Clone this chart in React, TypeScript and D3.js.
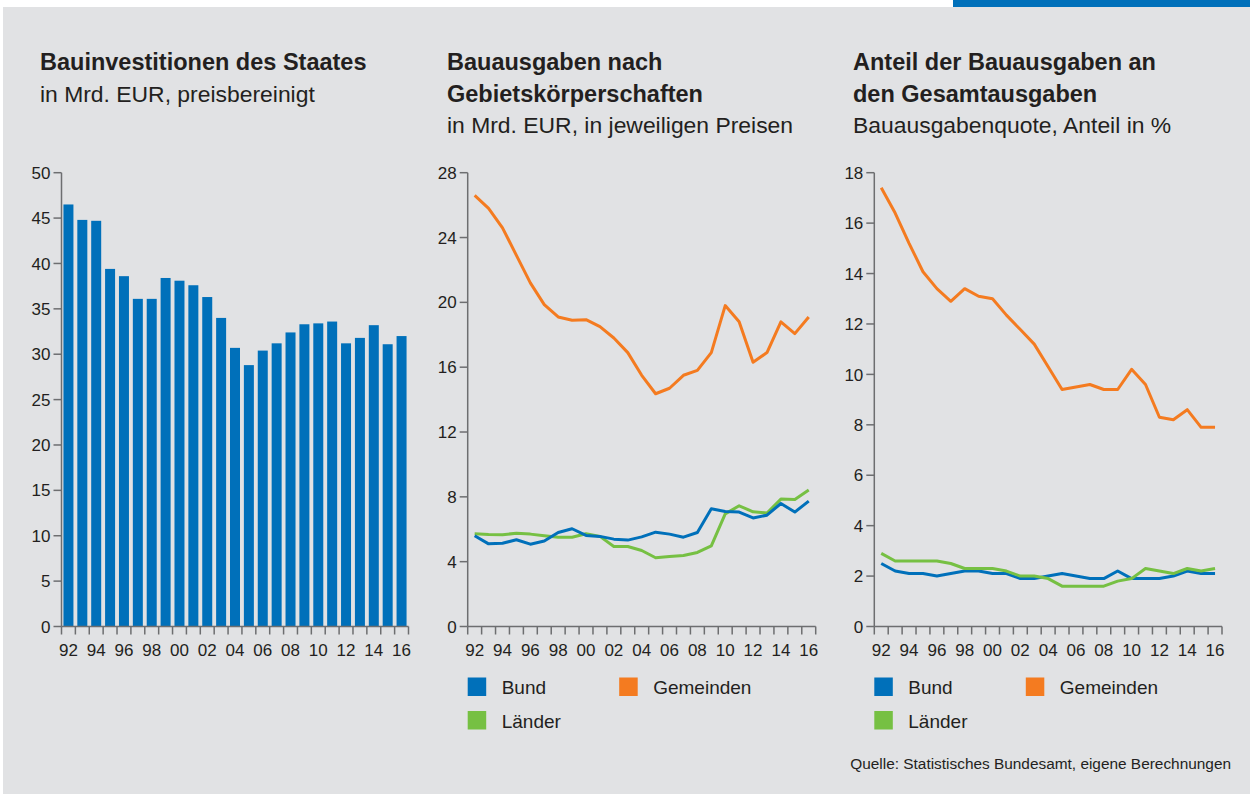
import React from "react";
import * as d3 from "d3";

const years = d3.range(1992, 2017);
const yearLabels = years.map((y) => String(y % 100).padStart(2, "0"));

// Chart 1: Bauinvestitionen des Staates (Mrd. EUR, preisbereinigt)
const bauinvestitionen = [46.5, 44.8, 44.7, 39.4, 38.6, 36.1, 36.1, 38.4, 38.1, 37.6, 36.3, 34.0, 30.7, 28.8, 30.4, 31.2, 32.4, 33.3, 33.4, 33.6, 31.2, 31.8, 33.2, 31.1, 32.0];

// Chart 2: Bauausgaben nach Gebietskörperschaften (Mrd. EUR)
const ausgabenBund = [5.6, 5.1, 5.14, 5.35, 5.08, 5.27, 5.8, 6.03, 5.62, 5.56, 5.39, 5.33, 5.53, 5.82, 5.7, 5.51, 5.8, 7.26, 7.1, 7.06, 6.7, 6.87, 7.59, 7.06, 7.74];
const ausgabenLaender = [5.72, 5.68, 5.66, 5.76, 5.7, 5.6, 5.51, 5.51, 5.72, 5.56, 4.94, 4.94, 4.69, 4.24, 4.32, 4.38, 4.57, 4.98, 6.95, 7.45, 7.08, 7.0, 7.86, 7.84, 8.42];
const ausgabenGemeinden = [26.6, 25.8, 24.6, 22.9, 21.2, 19.86, 19.1, 18.9, 18.93, 18.5, 17.8, 16.9, 15.5, 14.36, 14.7, 15.5, 15.8, 16.9, 19.8, 18.8, 16.3, 16.9, 18.8, 18.07, 19.1];

// Chart 3: Bauausgabenquote (Anteil in %)
const quoteBund = [2.5, 2.2, 2.1, 2.1, 2.0, 2.1, 2.2, 2.2, 2.1, 2.1, 1.9, 1.9, 2.0, 2.1, 2.0, 1.9, 1.9, 2.2, 1.9, 1.9, 1.9, 2.0, 2.2, 2.1, 2.1];
const quoteLaender = [2.9, 2.6, 2.6, 2.6, 2.6, 2.5, 2.3, 2.3, 2.3, 2.2, 2.0, 2.0, 1.9, 1.6, 1.6, 1.6, 1.6, 1.8, 1.9, 2.3, 2.2, 2.1, 2.3, 2.2, 2.3];
const quoteGemeinden = [17.4, 16.4, 15.2, 14.07, 13.4, 12.9, 13.4, 13.1, 13.0, 12.35, 11.78, 11.2, 10.3, 9.4, 9.5, 9.6, 9.4, 9.4, 10.2, 9.6, 8.3, 8.2, 8.6, 7.9, 7.9];

const ticks1 = [0, 5, 10, 15, 20, 25, 30, 35, 40, 45, 50];
const ticks2 = [0, 4, 8, 12, 16, 20, 24, 28];
const ticks3 = [0, 2, 4, 6, 8, 10, 12, 14, 16, 18];

const seriesNames = ["Bund", "Gemeinden", "Länder"];

const BG = "#e1e2e4";
const BLUE = "#0070ba";
const ORANGE = "#f47b20";
const GREEN = "#76c043";
const AXIS = "#6d6e70";
const TEXT = "#231f20";
const FONT = "'Liberation Sans', Arial, sans-serif";

const Y_TOP = 172.7;
const Y_BOTTOM = 626.5;

function YAxis({ x, scale, ticks }: any) {
  return (
    <g>
      <line x1={x} x2={x} y1={scale(ticks[ticks.length - 1])} y2={scale(0)} stroke={AXIS} strokeWidth={1.5} />
      {ticks.map((t: number) => (
        <g key={t}>
          <line x1={x - 8} x2={x} y1={scale(t)} y2={scale(t)} stroke={AXIS} strokeWidth={1.5} />
          <text x={x - 11} y={scale(t)} dy="0.36em" textAnchor="end" fontSize={17} fill={TEXT} fontFamily={FONT}>
            {t}
          </text>
        </g>
      ))}
    </g>
  );
}

function XAxis({ x0, x1, y }: any) {
  const band = d3.scaleBand<number>().domain(years).range([x0, x1]).padding(0);
  const bounds = [...years.map((yr) => band(yr) as number), x1];
  return (
    <g>
      <line x1={x0} x2={x1} y1={y} y2={y} stroke={AXIS} strokeWidth={1.5} />
      {bounds.map((bx, i) => (
        <line key={i} x1={bx} x2={bx} y1={y} y2={y + 8} stroke={AXIS} strokeWidth={1.5} />
      ))}
      {years.map((yr, i) =>
        i % 2 === 0 ? (
          <text key={yr} x={(band(yr) as number) + band.bandwidth() / 2} y={y + 29} textAnchor="middle" fontSize={17} fill={TEXT} fontFamily={FONT}>
            {yearLabels[i]}
          </text>
        ) : null
      )}
    </g>
  );
}

function Titles({ x, lines, sub }: any) {
  return (
    <g fontFamily={FONT} fill={TEXT}>
      {lines.map((l: string, i: number) => (
        <text key={i} x={x} y={70 + i * 31.5} fontSize={23.5} fontWeight="bold">
          {l}
        </text>
      ))}
      <text x={x} y={70 + lines.length * 31.5} fontSize={22.9}>
        {sub}
      </text>
    </g>
  );
}

function Legend({ x }: any) {
  const colors: any = { Bund: BLUE, Gemeinden: ORANGE, "Länder": GREEN };
  const pos: any = { Bund: [0, 0], Gemeinden: [151.5, 0], "Länder": [0, 33.5] };
  return (
    <g fontFamily={FONT} fill={TEXT}>
      {seriesNames.map((n) => (
        <g key={n} transform={`translate(${x + pos[n][0]},${677.5 + pos[n][1]})`}>
          <rect x={0} y={0} width={18.5} height={18.5} fill={colors[n]} />
          <text x={34} y={16.5} fontSize={19}>
            {n}
          </text>
        </g>
      ))}
    </g>
  );
}

function LineChart({ x0, x1, max, ticks, series }: any) {
  const y = d3.scaleLinear().domain([0, max]).range([Y_BOTTOM, Y_TOP]);
  const xp = d3.scalePoint<number>().domain(years).range([x0, x1]).padding(0.5);
  const line = d3
    .line<number>()
    .x((_, i) => xp(years[i]) as number)
    .y((d) => y(d));
  return (
    <g>
      {series.map((s: any) => (
        <path key={s.name} d={line(s.values) as string} fill="none" stroke={s.color} strokeWidth={3} strokeLinejoin="round" />
      ))}
      <YAxis x={x0} scale={y} ticks={ticks} />
      <XAxis x0={x0} x1={x1} y={Y_BOTTOM} />
      <Legend x={x0} />
    </g>
  );
}

function BarChart({ x0, x1 }: any) {
  const y = d3.scaleLinear().domain([0, 50]).range([Y_BOTTOM, Y_TOP]);
  const xb = d3.scaleBand<number>().domain(years).range([x0, x1]).paddingInner(0.28).paddingOuter(0.14);
  return (
    <g>
      {bauinvestitionen.map((v, i) => (
        <rect key={i} x={xb(years[i])} y={y(v)} width={xb.bandwidth()} height={y(0) - y(v)} fill={BLUE} />
      ))}
      <YAxis x={x0} scale={y} ticks={ticks1} />
      <XAxis x0={x0} x1={x1} y={Y_BOTTOM} />
    </g>
  );
}

export default function App() {
  return (
    <div>
      <style>{"body{margin:0}"}</style>
      <svg width={1250} height={794} style={{ display: "block" }}>
        <rect x={0} y={0} width={1250} height={794} fill="#ffffff" />
        <rect x={3} y={7} width={1247} height={787} fill={BG} />
        <rect x={953} y={0} width={297} height={7} fill={BLUE} />

        <Titles x={40} lines={["Bauinvestitionen des Staates"]} sub="in Mrd. EUR, preisbereinigt" />
        <Titles x={447} lines={["Bauausgaben nach", "Gebietskörperschaften"]} sub="in Mrd. EUR, in jeweiligen Preisen" />
        <Titles x={853} lines={["Anteil der Bauausgaben an", "den Gesamtausgaben"]} sub="Bauausgabenquote, Anteil in %" />

        <BarChart x0={61.5} x1={408.5} />
        <LineChart
          x0={467.7}
          x1={815.7}
          max={28}
          ticks={ticks2}
          series={[
            { name: "Länder", values: ausgabenLaender, color: GREEN },
            { name: "Bund", values: ausgabenBund, color: BLUE },
            { name: "Gemeinden", values: ausgabenGemeinden, color: ORANGE },
          ]}
        />
        <LineChart
          x0={874.3}
          x1={1222}
          max={18}
          ticks={ticks3}
          series={[
            { name: "Bund", values: quoteBund, color: BLUE },
            { name: "Länder", values: quoteLaender, color: GREEN },
            { name: "Gemeinden", values: quoteGemeinden, color: ORANGE },
          ]}
        />

        <text x={1231} y={769} textAnchor="end" fontSize={15.4} fill={TEXT} fontFamily={FONT}>
          Quelle: Statistisches Bundesamt, eigene Berechnungen
        </text>
      </svg>
    </div>
  );
}
